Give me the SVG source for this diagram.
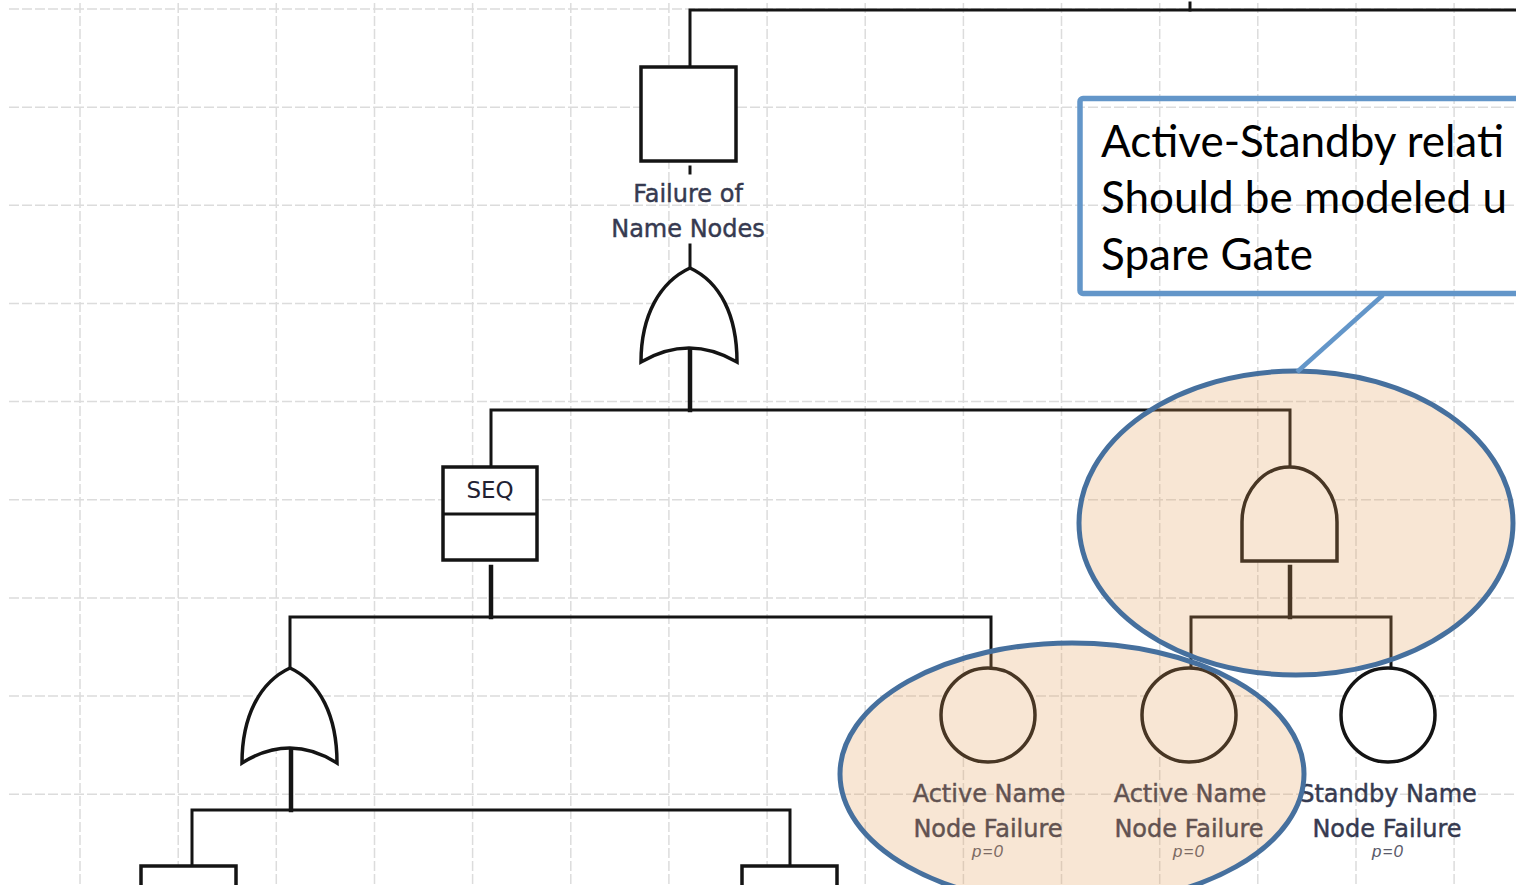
<svg xmlns="http://www.w3.org/2000/svg" width="1516" height="885" viewBox="0 0 1516 885">
<defs>
<style>
.grid line{stroke:#dcdcdc;stroke-width:1.5;stroke-dasharray:10 3}
.wire{stroke:#141414;stroke-width:3;fill:none;stroke-linecap:square}
.thick{stroke-width:4.5}
.shape{stroke:#141414;stroke-width:3.5;fill:#ffffff}
.lbl{font-family:"DejaVu Sans",Verdana,sans-serif;font-size:24px;fill:#363a50;stroke:#363a50;stroke-width:0.45;text-anchor:middle}
.prob{font-family:"Liberation Sans",Arial,sans-serif;font-style:italic;font-size:17px;letter-spacing:1px;fill:#5a5a6a;text-anchor:middle}
.note{font-family:Lato,"Open Sans",sans-serif;font-size:44px;fill:#000000}
.hl{fill:#e39b53;fill-opacity:0.25;stroke:#46709e;stroke-width:5}
</style>
</defs>
<rect width="1516" height="885" fill="#ffffff"/>
<g class="grid">
<line x1="80" y1="3" x2="80" y2="885"/>
<line x1="178.2" y1="3" x2="178.2" y2="885"/>
<line x1="276.3" y1="3" x2="276.3" y2="885"/>
<line x1="374.5" y1="3" x2="374.5" y2="885"/>
<line x1="472.6" y1="3" x2="472.6" y2="885"/>
<line x1="570.8" y1="3" x2="570.8" y2="885"/>
<line x1="668.9" y1="3" x2="668.9" y2="885"/>
<line x1="767.1" y1="3" x2="767.1" y2="885"/>
<line x1="865.2" y1="3" x2="865.2" y2="885"/>
<line x1="963.4" y1="3" x2="963.4" y2="885"/>
<line x1="1061.5" y1="3" x2="1061.5" y2="885"/>
<line x1="1159.7" y1="3" x2="1159.7" y2="885"/>
<line x1="1257.8" y1="3" x2="1257.8" y2="885"/>
<line x1="1356" y1="3" x2="1356" y2="885"/>
<line x1="1454.1" y1="3" x2="1454.1" y2="885"/>
<line x1="9" y1="9" x2="1516" y2="9"/>
<line x1="9" y1="107.2" x2="1516" y2="107.2"/>
<line x1="9" y1="205.3" x2="1516" y2="205.3"/>
<line x1="9" y1="303.5" x2="1516" y2="303.5"/>
<line x1="9" y1="401.6" x2="1516" y2="401.6"/>
<line x1="9" y1="499.8" x2="1516" y2="499.8"/>
<line x1="9" y1="597.9" x2="1516" y2="597.9"/>
<line x1="9" y1="696.1" x2="1516" y2="696.1"/>
<line x1="9" y1="794.2" x2="1516" y2="794.2"/>
</g>
<g id="connectors">
<path class="wire" d="M690,67 V10 H1520"/>
<path class="wire" d="M1190,3 V10"/>
<path class="wire" d="M690,167 V173"/>
<path class="wire" d="M690,245 V268"/>
<path class="wire thick" d="M690,348 V410"/>
<path class="wire" d="M491,467 V410 H1290 V467"/>
<path class="wire thick" d="M491,567 V617"/>
<path class="wire" d="M290,668 V617 H991 V668"/>
<path class="wire thick" d="M291,748 V810"/>
<path class="wire" d="M192,866 V810 H790 V866"/>
<path class="wire thick" d="M1290,567 V617"/>
<path class="wire" d="M1191,668 V617 H1391 V668"/>
</g>
<g id="top-event">
<rect class="shape" x="641" y="67" width="95" height="94"/>
<text class="lbl" x="688" y="202">Failure of</text>
<text class="lbl" x="688" y="237">Name Nodes</text>
</g>
<g id="or-gate-top">
<path class="shape" d="M690,268 C660,282 641,315 641,362 Q689,334 737,362 C737,315 720,282 690,268 Z"/>
</g>
<g id="seq-gate">
<rect class="shape" x="443" y="467" width="94" height="93"/>
<line x1="443" y1="514" x2="537" y2="514" stroke="#141414" stroke-width="3"/>
<text x="490" y="498" font-family="DejaVu Sans, sans-serif" font-size="23" fill="#222233" text-anchor="middle">SEQ</text>
</g>
<g id="or-gate-left">
<path class="shape" d="M290,668 C260,682 242,716 242,763 Q290,733 337,763 C337,716 320,682 290,668 Z"/>
</g>
<g id="and-gate">
<path class="shape" d="M1242,561 V522 A47.5,55 0 0 1 1337,522 V561 Z"/>
</g>
<g id="event-active-1">
<circle class="shape" cx="988" cy="715" r="47"/>
<text class="lbl" x="989" y="802">Active Name</text>
<text class="lbl" x="988" y="837">Node Failure</text>
<text class="prob" x="988" y="857">p=0</text>
</g>
<g id="event-active-2">
<circle class="shape" cx="1189" cy="715" r="47"/>
<text class="lbl" x="1190" y="802">Active Name</text>
<text class="lbl" x="1189" y="837">Node Failure</text>
<text class="prob" x="1189" y="857">p=0</text>
</g>
<g id="event-standby">
<circle class="shape" cx="1388" cy="715" r="47"/>
<text class="lbl" x="1388" y="802" font-size="23">Standby Name</text>
<text class="lbl" x="1387" y="837">Node Failure</text>
<text class="prob" x="1388" y="857">p=0</text>
</g>
<g id="event-bottom-left">
<rect class="shape" x="141" y="866" width="95" height="94"/>
</g>
<g id="event-bottom-mid">
<rect class="shape" x="742" y="866" width="95" height="94"/>
</g>
<g id="highlight-and">
<ellipse class="hl" cx="1296" cy="523" rx="217" ry="152"/>
</g>
<g id="highlight-active">
<ellipse class="hl" cx="1072" cy="774" rx="232" ry="131"/>
</g>
<g id="callout">
<line x1="1383" y1="295" x2="1297" y2="372" stroke="#6396c9" stroke-width="4.5"/>
<rect x="1080" y="98.5" width="480" height="195" rx="3" fill="none" stroke="#6396c9" stroke-width="5.5"/>
<text class="note" x="1101" y="157">Active-Standby relati</text>
<text class="note" x="1101" y="213">Should be modeled u</text>
<text class="note" x="1101" y="270">Spare Gate</text>
</g>
</svg>
